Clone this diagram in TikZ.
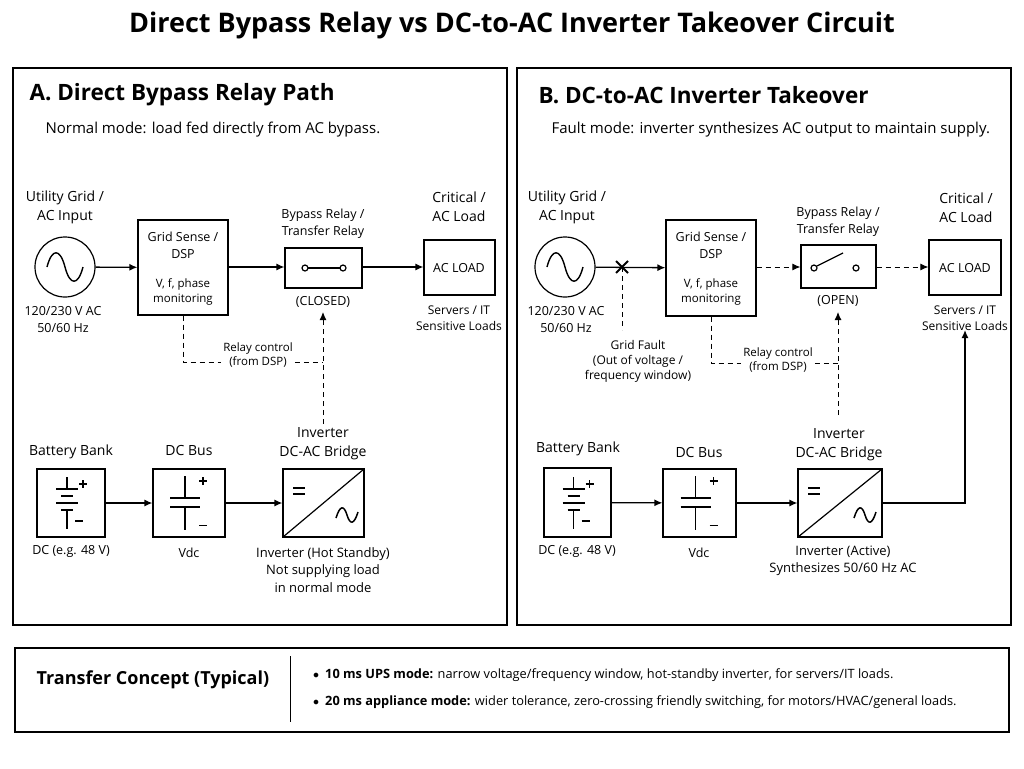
\documentclass[tikz,border=0pt]{standalone}
\usepackage{fontspec}
\setmainfont{Open Sans}
\usetikzlibrary{arrows.meta}
\begin{document}
\begin{tikzpicture}[x=1pt,y=-1pt,
  lbl/.style={align=center,font=\fontsize{14}{19}\selectfont,inner sep=0},
  sml/.style={align=center,font=\fontsize{11.5}{14.5}\selectfont,inner sep=0},
  mid/.style={align=center,font=\fontsize{12.5}{17}\selectfont,inner sep=0},
  box/.style={draw,line width=1.2pt},
  arr/.style={line width=1.3pt,-{Latex[length=8pt,width=7pt]}},
  darr/.style={line width=1pt,dashed,dash pattern=on 5pt off 4pt,-{Latex[length=8pt,width=7pt]}},
  dl/.style={line width=1pt,dash pattern=on 5pt off 4pt},
  sym/.style={line width=1.4pt}]
\useasboundingbox (0,0) rectangle (1024,768);
\node[font=\fontsize{27}{30}\bfseries\selectfont] (title) at (512,25) {Direct Bypass Relay vs DC-to-AC Inverter Takeover Circuit};
\draw[line width=1.2pt] (13,68) rectangle (507,625);
\draw[line width=1.2pt] (517,68) rectangle (1011,625);
\node[anchor=west,font=\fontsize{22.5}{26}\bfseries\selectfont] (ha) at (26,95) {A.\ Direct Bypass Relay Path};
\node[anchor=west,font=\fontsize{15}{18}\selectfont] (sa) at (42,130) {Normal mode: load fed directly from AC bypass.};
\node[anchor=west,font=\fontsize{22.5}{26}\bfseries\selectfont] (hb) at (535,95) {B.\ DC-to-AC Inverter Takeover};
\node[anchor=west,font=\fontsize{15}{18}\selectfont] (sb) at (548,130) {Fault mode: inverter synthesizes AC output to maintain supply.};

% ===== Panel A =====
\node[draw,circle,line width=1.2pt,minimum size=60pt] (srcA) at (65,267) {};
\draw[sym] (47,267) .. controls (52,248) and (60,248) .. (65,267) .. controls (70,286) and (78,286) .. (83,267);
\node[lbl] (ugA) at (65,207) {Utility Grid /\\AC Input};
\node[mid] (vA) at (63,320) {120/230 V AC\\50/60 Hz};
\node[box,minimum width=90pt,minimum height=95pt] (gsA) at (183,267.5) {};
\node[mid] (gsAt) at (183,245) {Grid Sense /\\DSP};
\node[sml] (gsAm) at (183,292) {V, f, phase\\monitoring};
\node[box,minimum width=77pt,minimum height=40pt] (rlA) at (323.5,268) {};
\draw[line width=1.3pt] (307,268) -- (341,268);
\draw[line width=1.2pt,fill=white] (305,268) circle (3pt) (343,268) circle (3pt);
\node[mid] (rlAl) at (323,224) {Bypass Relay /\\Transfer Relay};
\node[mid] (rlAs) at (323,302) {(CLOSED)};
\node[box,minimum width=71pt,minimum height=55pt] (ldA) at (459.5,267.5) {};
\node[mid] (ldAt) at (459,268) {AC LOAD};
\node[lbl] (ldAl) at (459,207) {Critical /\\AC Load};
\node[sml,font=\fontsize{12}{16}\selectfont] (ldAs) at (459,318) {Servers / IT\\Sensitive Loads};
\draw[arr] (srcA) -- (gsA);
\draw[arr] (gsA.east |- 0,267) -- (rlA.west |- 0,267);
\draw[arr] (rlA.east |- 0,267) -- (ldA.west |- 0,267);
\coordinate (cA1) at (183,362);
\coordinate (cA2) at (323,362);
\node[sml,fill=white,inner sep=2pt] (rcA) at (258,355) {Relay control\\(from DSP)};
\draw[dl] (gsA.south) -- (cA1) -- (rcA.west |- cA1);
\draw[dl] (rcA.east |- cA2) -- (cA2);
\node[box,minimum width=68pt,minimum height=68pt] (btA) at (71,503) {};
\node[box,minimum width=72pt,minimum height=68pt] (dcA) at (189,503) {};
\node[box,minimum width=81pt,minimum height=68pt] (ivA) at (323.5,503) {};
\coordinate (ivAt) at (323,424);
\draw[darr] (ivAt) -- (323,312);
\node[lbl] (btAl) at (71,452) {Battery Bank};
\node[lbl] (dcAl) at (189,450) {DC Bus};
\node[lbl] (ivAl) at (323,444) {Inverter\\DC-AC Bridge};
\node[mid] (btAs) at (71,551) {DC (e.g. 48 V)};
\node[mid] (dcAs) at (189,553) {Vdc};
\node[mid,font=\fontsize{13}{17.5}\selectfont] (ivAs) at (323,570) {Inverter (Hot Standby)\\Not supplying load\\in normal mode};
\draw[arr] (btA) -- (dcA);
\draw[arr] (dcA) -- (ivA);

% ===== Panel B =====
\node[draw,circle,line width=1.2pt,minimum size=60pt] (srcB) at (565,267) {};
\draw[sym] (547,267) .. controls (552,248) and (560,248) .. (565,267) .. controls (570,286) and (578,286) .. (583,267);
\node[lbl] (ugB) at (567,207) {Utility Grid /\\AC Input};
\node[mid] (vB) at (566,320) {120/230 V AC\\50/60 Hz};
\node[box,minimum width=90pt,minimum height=96pt] (gsB) at (711,268) {};
\node[mid] (gsBt) at (711,245) {Grid Sense /\\DSP};
\node[sml] (gsBm) at (711,292) {V, f, phase\\monitoring};
\node[box,minimum width=75pt,minimum height=43pt] (rlB) at (838.5,266.5) {};
\draw[line width=1.3pt] (817,266) -- (843,253);
\draw[line width=1.2pt,fill=white] (814,268) circle (3pt) (856,268) circle (3pt);
\node[mid] (rlBl) at (838,222) {Bypass Relay /\\Transfer Relay};
\node[mid] (rlBs) at (838,301) {(OPEN)};
\node[box,minimum width=72pt,minimum height=55pt] (ldB) at (965,267.5) {};
\node[mid] (ldBt) at (965,268) {AC LOAD};
\node[lbl] (ldBl) at (966,208) {Critical /\\AC Load};
\node[sml,font=\fontsize{12}{16}\selectfont] (ldBs) at (965,318) {Servers / IT\\Sensitive Loads};
\coordinate (xB) at (622,267);
\draw[arr] (srcB) -- (gsB);
\draw[line width=2pt] (616,261) -- (628,273) (616,273) -- (628,261);
\draw[darr] (gsB.east |- 0,267) -- (rlB.west |- 0,267);
\draw[darr] (rlB.east |- 0,267) -- (ldB.west |- 0,267);
\coordinate (xBd) at (622,330);
\draw[dl] (xB) -- (xBd);
\node[sml,font=\fontsize{12}{15}\selectfont] (gf) at (638,361) {Grid Fault\\(Out of voltage /\\frequency window)};
\coordinate (cB1) at (711,363);
\coordinate (cB2) at (838,363);
\node[sml,fill=white,inner sep=2pt] (rcB) at (778,360) {Relay control\\(from DSP)};
\draw[dl] (gsB.south) -- (cB1) -- (rcB.west |- cB1);
\draw[dl] (rcB.east |- cB2) -- (cB2);
\node[box,minimum width=67pt,minimum height=69pt] (btB) at (577.5,502.5) {};
\node[box,minimum width=73pt,minimum height=68pt] (dcB) at (699.5,503) {};
\node[box,minimum width=84pt,minimum height=68pt] (ivB) at (840,503) {};
\coordinate (ivBt) at (838,415);
\draw[darr] (ivBt) -- (838,312);
\node[lbl] (btBl) at (578,449) {Battery Bank};
\node[lbl] (dcBl) at (699,452) {DC Bus};
\node[lbl] (ivBl) at (839,445) {Inverter\\DC-AC Bridge};
\node[mid] (btBs) at (577,551) {DC (e.g. 48 V)};
\node[mid] (dcBs) at (699,553) {Vdc};
\node[mid,font=\fontsize{13}{17.5}\selectfont] (ivBs) at (843,561) {Inverter (Active)\\Synthesizes 50/60 Hz AC};
\draw[arr] (btB) -- (dcB);
\draw[arr] (dcB) -- (ivB);
\coordinate (cornB) at (965,503);
\draw[arr] (ivB.east) -- (cornB) -- (965,330);

% symbols
\foreach \bx/\cx/\ix/\iw in {71/189/323.5/81, 577.5/699.5/840/84}{
  \draw[sym] (\bx-4,477) -- (\bx-4,489);
  \draw[sym] (\bx-15,489) -- (\bx+7,489);
  \draw[sym] (\bx-10,496) -- (\bx+2,496);
  \draw[sym] (\bx-15,503) -- (\bx+7,503);
  \draw[sym] (\bx-10,510) -- (\bx+2,510);
  \draw[sym] (\bx-4,510) -- (\bx-4,529);
  \draw[line width=1.1pt] (\bx+8,484) -- (\bx+16,484) (\bx+12,480) -- (\bx+12,488);
  \draw[line width=1.1pt] (\bx+4,521) -- (\bx+12,521);
  \draw[sym] (\cx-4,476) -- (\cx-4,498) (\cx-19,498) -- (\cx+11,498) (\cx-19,507) -- (\cx+11,507) (\cx-4,507) -- (\cx-4,530);
  \draw[line width=1.1pt] (\cx+10,481) -- (\cx+18,481) (\cx+14,477) -- (\cx+14,485);
  \draw[line width=1pt] (\cx+10,525) -- (\cx+18,525);
  \draw[line width=1.2pt] (\ix-\iw/2,537) -- (\ix+\iw/2,469);
  \draw[line width=1.4pt] (\ix-\iw/2+10,488) -- (\ix-\iw/2+22,488) (\ix-\iw/2+10,494) -- (\ix-\iw/2+22,494);
  \draw[line width=1.5pt] (\ix+\iw/2-28,518) .. controls (\ix+\iw/2-24,505) and (\ix+\iw/2-20,505) .. (\ix+\iw/2-17,515) .. controls (\ix+\iw/2-14,525) and (\ix+\iw/2-10,525) .. (\ix+\iw/2-6,512);
}

% ===== Bottom box =====
\draw[line width=1.2pt] (15,648) rectangle (1009,732);
\node[anchor=west,font=\fontsize{18}{21}\bfseries\selectfont] (tc) at (33,680) {Transfer Concept (Typical)};
\draw[line width=1pt] (290,656) -- (290,722);
\node[anchor=west,font=\fontsize{12.8}{15}\selectfont,inner sep=0] (b1) at (313,675) {$\bullet$\hspace{6pt}\textbf{10 ms UPS mode:} narrow voltage/frequency window, hot-standby inverter, for servers/IT loads.};
\node[anchor=west,font=\fontsize{12.8}{15}\selectfont,inner sep=0] (b2) at (313,702) {$\bullet$\hspace{6pt}\textbf{20 ms appliance mode:} wider tolerance, zero-crossing friendly switching, for motors/HVAC/general loads.};
\end{tikzpicture}
\end{document}
